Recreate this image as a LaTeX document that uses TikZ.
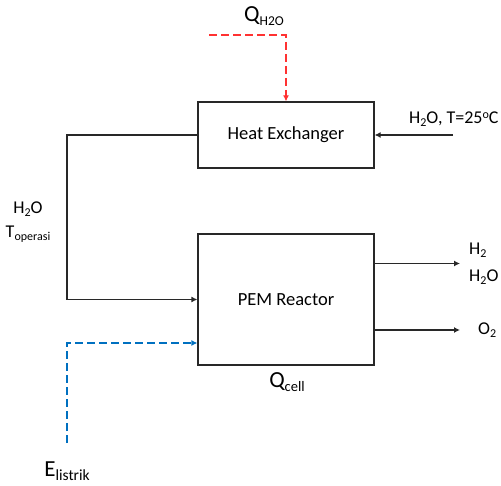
\documentclass[tikz,border=0pt]{standalone}
\usepackage{fontspec}
\setmainfont{Carlito}
\usetikzlibrary{arrows.meta}
\definecolor{linegray}{RGB}{40,40,40}
\definecolor{heatred}{RGB}{255,50,50}
\definecolor{powerblue}{RGB}{0,112,192}
\newcommand{\lowsub}[2][12]{\raisebox{-0.35ex}{\fontsize{#1}{#1}\selectfont #2}}
\tikzset{
  unit/.style={draw=linegray, line width=1.2pt, inner sep=0pt, font=\fontsize{18.5}{22}\selectfont},
  flow/.style={draw=linegray, line width=1.2pt, -{Latex[length=6pt,width=6pt]}},
  heatline/.style={draw=heatred, line width=1.3pt, dash pattern=on 8pt off 4pt, -{Latex[length=6pt,width=6pt]}},
  powerline/.style={draw=powerblue, line width=1.3pt, dash pattern=on 8pt off 4pt, -{Latex[length=6pt,width=6pt]}},
  lbl/.style={inner sep=0pt, font=\fontsize{18}{21}\selectfont},
  biglbl/.style={inner sep=0pt, font=\fontsize{23}{26}\selectfont}
}
\begin{document}
\begin{tikzpicture}[x=1pt, y=-1pt]
  \useasboundingbox (0,0) rectangle (501,486);
  \coordinate (qin) at (209,35);
  \coordinate (win) at (453,135);
  \coordinate (loop) at (67,200);
  \coordinate (elec) at (67,443);
  \coordinate (h2end) at (460,263.5);
  \coordinate (o2end) at (460,330);
  % units
  \node [unit, minimum width=176pt, minimum height=66pt] (hx) at (286,135) {Heat Exchanger};
  \node [unit, minimum width=176pt, minimum height=131pt] (pem) at (286,299.5) {PEM Reactor};
  % streams
  \draw [heatline] (qin) -| (hx.north);
  \draw [flow] (win) -- (hx.east);
  \draw [flow] (hx.west) -| (loop) |- (pem.west);
  \draw [powerline] (elec) |- ([yshift=-43.5pt]pem.west);
  \draw [flow] (pem.east |- h2end) -- (h2end);
  \draw [flow] (pem.east |- o2end) -- (o2end);
  % labels
  \node [biglbl] (qh2o) at (264,16) {Q\lowsub[13.5]{H2O}};
  \node [lbl, anchor=west] (feed) at (409,119) {H\lowsub{2}O, T=25\raisebox{0.6ex}{\fontsize{12}{12}\selectfont o}C};
  \node [lbl] (h2o) at (28,209) {H\lowsub{2}O};
  \node [lbl] (toper) at (28,234) {T\lowsub{operasi}};
  \node [biglbl] (elabel) at (67,471) {E\lowsub[15.5]{listrik}};
  \node [biglbl] (qcell) at (287,382) {Q\lowsub[14.5]{cell}};
  \node [lbl, anchor=west] (h2) at (469,250) {H\lowsub{2}};
  \node [lbl, anchor=west] (h2ob) at (469,277) {H\lowsub{2}O};
  \node [lbl, anchor=west] (o2) at (478,330) {O\lowsub{2}};
\end{tikzpicture}
\end{document}
